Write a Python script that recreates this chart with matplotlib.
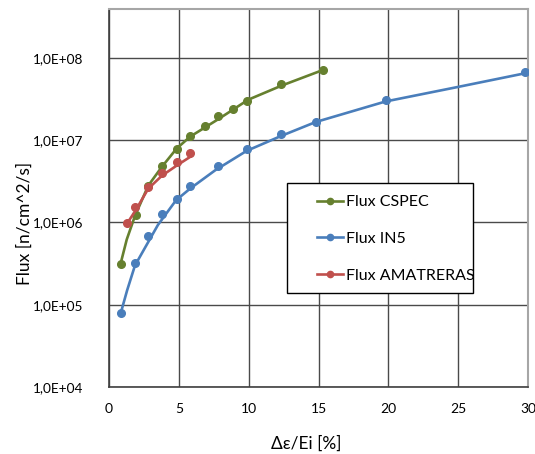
import matplotlib
matplotlib.use("Agg")
import matplotlib.pyplot as plt
from matplotlib.patches import Rectangle

# measured data points (markers)
CSPEC_X = [0.84, 1.9, 2.81, 3.82, 4.84, 5.8, 6.87, 7.83, 8.85, 9.85, 12.33, 15.3]
CSPEC_FLUX = [3.1e5, 1.23e6, 2.8e6, 4.9e6, 7.7e6, 1.12e7, 1.5e7, 1.94e7, 2.4e7, 3.0e7, 4.8e7, 7.1e7]

IN5_X = [0.84, 1.86, 2.81, 3.82, 4.84, 5.82, 7.83, 9.85, 12.3, 14.8, 19.8, 29.8]
IN5_FLUX = [7.9e4, 3.2e5, 6.9e5, 1.26e6, 1.95e6, 2.75e6, 4.9e6, 7.7e6, 1.2e7, 1.67e7, 3.1e7, 6.7e7]

AMAT_X = [1.31, 1.88, 2.81, 3.79, 4.84, 5.82]
AMAT_FLUX = [9.8e5, 1.55e6, 2.7e6, 4.0e6, 5.4e6, 6.9e6]

# fitted curves
CSPEC_FIT_X = [0.84, 1.27, 1.86, 2.81, 3.77, 4.84, 5.8, 7.83, 9.97, 12.36, 15.3]
CSPEC_FIT = [3.2e5, 6.2e5, 1.2e6, 2.8e6, 4.7e6, 7.9e6, 1.1e7, 1.8e7, 3.1e7, 4.6e7, 7.1e7]

IN5_FIT_X = [0.84, 1.3, 1.86, 2.6, 3.5, 4.8, 5.8, 7.6, 9.85, 12.3, 14.8, 19.8, 24.9, 29.8]
IN5_FIT = [7.9e4, 1.5e5, 3.0e5, 5.0e5, 9.3e5, 1.86e6, 2.57e6, 4.3e6, 7.4e6, 1.12e7,
           1.66e7, 2.95e7, 4.4e7, 6.5e7]

AMAT_FIT_X = [1.31, 1.88, 2.81, 3.79, 4.84, 5.96]
AMAT_FIT = [9.8e5, 1.38e6, 2.57e6, 3.7e6, 4.9e6, 6.5e6]

X_TICKS = [0, 5, 10, 15, 20, 25, 30]
Y_TICKS = [1e4, 1e5, 1e6, 1e7, 1e8]
Y_TICK_LABELS = ["1,0E+04", "1,0E+05", "1,0E+06", "1,0E+07", "1,0E+08"]

GREEN = "#66802f"
BLUE = "#4a7ebb"
RED = "#c0504d"

plt.rcParams["font.family"] = ["Lato", "DejaVu Sans"]

W, H = 535, 454
fig = plt.figure(figsize=(W / 100, H / 100), dpi=100)
ax = fig.add_axes([109 / W, 1 - 387 / H, (528 - 109) / W, (387 - 9.3) / H])

series = [
    (CSPEC_X, CSPEC_FLUX, CSPEC_FIT_X, CSPEC_FIT, GREEN, "Flux CSPEC"),
    (IN5_X, IN5_FLUX, IN5_FIT_X, IN5_FIT, BLUE, "Flux IN5"),
    (AMAT_X, AMAT_FLUX, AMAT_FIT_X, AMAT_FIT, RED, "Flux AMATRERAS"),
]
for xs, ys, fx, fy, col, lab in series:
    ax.plot(fx, fy, color=col, lw=1.9, zorder=3, solid_capstyle="round")
    ax.plot(xs, ys, "o", color=col, ms=5.5, zorder=3)
    ax.plot([], [], color=col, lw=1.9, marker="o", ms=4.5, label=lab)

ax.set_yscale("log")
ax.set_xlim(0, 30)
ax.set_ylim(1e4, 10 ** 8.59)
ax.set_xticks(X_TICKS)
ax.set_yticks(Y_TICKS)
ax.set_yticklabels(Y_TICK_LABELS)
ax.minorticks_off()
ax.tick_params(length=0, colors="#000000")
ax.tick_params(axis="y", pad=18.7, labelsize=9.8)
ax.tick_params(axis="x", pad=11.5, labelsize=10)
ax.grid(True, color="#4a4a4a", lw=1.0)
ax.set_axisbelow(True)
for s in ["left", "bottom"]:
    ax.spines[s].set_color("#404040")
    ax.spines[s].set_linewidth(1.2)
for s in ["top", "right"]:
    ax.spines[s].set_color("#a6a6a6")
    ax.spines[s].set_linewidth(1.5)

fig.text(25 / W, 1 - 223 / H, "Flux [n/cm^2/s]", rotation=90, ha="center",
         va="center", fontsize=12.5)
fig.text(306 / W, 1 - 444 / H, "Δε/Ei [%]", ha="center", va="center",
         fontsize=12.5)

box = Rectangle((287 / W, 1 - 293 / H), 186 / W, 110 / H, transform=fig.transFigure,
                facecolor="white", edgecolor="black", lw=1.0, zorder=4, clip_on=False)
ax.add_patch(box)
leg = ax.legend(loc="upper left", bbox_to_anchor=(317 / W, 1 - 195 / H),
                bbox_transform=fig.transFigure, frameon=False, fontsize=11.5,
                borderpad=0, borderaxespad=0, handlelength=1.6,
                handletextpad=0.2, labelspacing=1.42)
leg.set_zorder(5)

fig.savefig("out.png", dpi=100)
